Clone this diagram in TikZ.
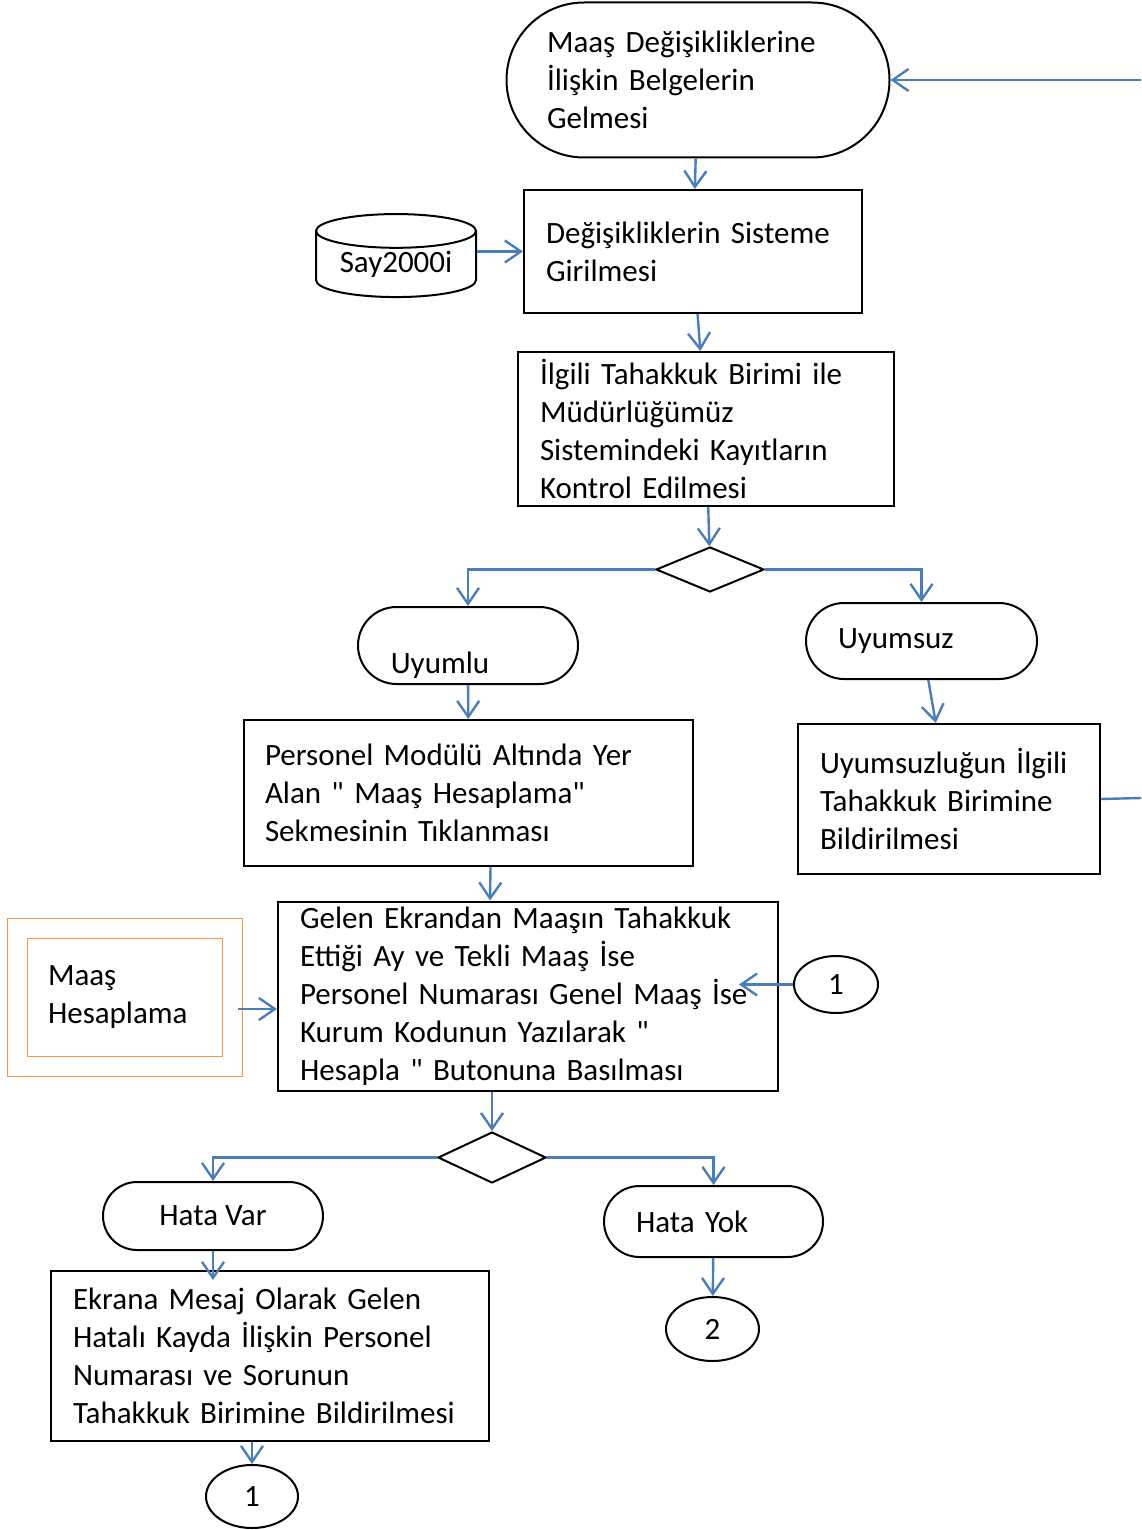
\documentclass[tikz,border=0pt]{standalone}
\usepackage{fontspec}
\setmainfont{Carlito}
\usetikzlibrary{shapes}
\usetikzlibrary{arrows.meta}
\usetikzlibrary{positioning}
\definecolor{akismavi}{RGB}{74,126,187}
\definecolor{turuncu}{RGB}{247,150,70}
\tikzstyle{terminal}=[rounded rectangle,draw,line width=1pt,inner sep=0pt,align=left]
\tikzstyle{islem}=[rectangle,draw,line width=1pt,inner sep=0pt,align=left]
\tikzstyle{karar}=[diamond,draw,line width=1pt,inner sep=0pt]
\tikzstyle{baglanti}=[ellipse,draw,line width=1pt,inner sep=0pt]
\tikzstyle{veri}=[cylinder,shape border rotate=90,aspect=0.3,draw,line width=1pt,inner sep=0pt]
\tikzstyle{akis}=[-{Straight Barb[length=8pt,width=11pt]},draw=akismavi,line width=1.2pt]
\tikzstyle{cizgi}=[draw=akismavi,line width=1.2pt]
\newcommand{\tirnak}{\textquotedbl}
\begin{document}
\begin{tikzpicture}[x=0.5pt,y=-0.5pt,font=\fontsize{15.5}{19}\selectfont]
\useasboundingbox (0,0) rectangle (1141,1530);
\node[terminal,minimum width=191.5pt,minimum height=77.5pt,text width=151pt] (basla) at (698,80) {Maaş Değişikliklerine\\İlişkin Belgelerin\\Gelmesi};
\node[islem,minimum width=169pt,minimum height=61.5pt,text width=147pt] (giris) at (693,251.5) {Değişikliklerin Sisteme\\Girilmesi};
\node[veri,minimum width=80pt,minimum height=41.5pt] (say) at (396,264.5) {Say2000i};
\node[islem,minimum width=188pt,minimum height=77pt,text width=166pt] (kontrol) at (706,429) {İlgili Tahakkuk Birimi ile\\Müdürlüğümüz\\Sistemindeki Kayıtların\\Kontrol Edilmesi};
\node[karar,minimum width=54pt,minimum height=22.5pt] (karar1) at (710,569.5) {};
\node[terminal,minimum width=110pt,minimum height=38.5pt,label={[xshift=-14pt,yshift=-9.75pt]center:Uyumlu}] (uyumlu) at (468,645.5) {};
\node[terminal,minimum width=115.5pt,minimum height=38pt,text width=83.5pt] (uyumsuz) at (921.5,641) {Uyumsuz};
\node[islem,minimum width=224.5pt,minimum height=73pt,text width=203.5pt] (personel) at (468.5,793) {Personel Modülü Altında Yer\\Alan \tirnak{} Maaş Hesaplama\tirnak\\Sekmesinin Tıklanması};
\node[islem,minimum width=151pt,minimum height=75pt,text width=129pt] (uyumsuzluk) at (949,799) {Uyumsuzluğun İlgili\\Tahakkuk Birimine\\Bildirilmesi};
\node[islem,minimum width=250pt,minimum height=94.5pt,text width=228pt] (gelen) at (528,996) {Gelen Ekrandan Maaşın Tahakkuk\\Ettiği Ay ve Tekli Maaş İse\\Personel Numarası Genel Maaş İse\\Kurum Kodunun Yazılarak \tirnak\\Hesapla \tirnak{} Butonuna Basılması};
\node[islem,draw=turuncu,line width=0.5pt,double,double distance=9.5pt,minimum width=107.25pt,minimum height=69pt,text width=77pt] (hesap) at (125,997) {Maaş\\Hesaplama};
\node[baglanti,minimum width=42pt,minimum height=28.5pt] (bag1) at (836,984.5) {1};
\node[karar,minimum width=54pt,minimum height=25.5pt] (karar2) at (492,1157.5) {};
\node[terminal,minimum width=110pt,minimum height=34pt] (hatavar) at (213,1216) {Hata Var};
\node[terminal,minimum width=109.5pt,minimum height=35.5pt,text width=77.5pt] (hatayok) at (713.5,1221.5) {Hata Yok};
\node[islem,minimum width=219pt,minimum height=85pt,text width=197pt] (ekrana) at (270,1356) {Ekrana Mesaj Olarak Gelen\\Hatalı Kayda İlişkin Personel\\Numarası ve Sorunun\\Tahakkuk Birimine Bildirilmesi};
\node[baglanti,minimum width=46.5pt,minimum height=32pt] (bag2) at (712.5,1329) {2};
\node[baglanti,minimum width=46pt,minimum height=31.5pt] (bag3) at (252,1496.5) {1};
\coordinate (sag1) at (1141,80);
\coordinate (sag2) at (1141,798);
% akis oklari
\draw[akis] (sag1) -- (basla.east);
\draw[akis] (basla) -- (giris);
\draw[akis] (say.east |- giris.west) -- (giris.west);
\draw[akis] (giris) -- (kontrol);
\draw[akis] (kontrol) -- (karar1);
\draw[akis] (karar1.west) -| (uyumlu.north);
\draw[akis] (karar1.east) -| (uyumsuz.north);
\draw[akis] (uyumlu) -- (personel);
\draw[akis] (uyumsuz) -- (uyumsuzluk);
\draw[cizgi] (uyumsuzluk.east) -- (sag2);
\draw[akis] ([xshift=11pt]personel.south) -- ([xshift=-19pt]gelen.north);
\draw[akis] ([xshift=2.5pt,yshift=-6pt]hesap.east) -- ([yshift=-6pt]gelen.west |- hesap.east);
\draw[akis] (bag1.west) -- ([xshift=-20pt]gelen.east |- bag1.west);
\draw[akis] (karar2.north |- gelen.south) -- (karar2.north);
\draw[akis] (karar2.west) -| (hatavar.north);
\draw[akis] (karar2.east) -| (hatayok.north);
\draw[akis] (hatavar.south) -- ([yshift=-5pt]hatavar.south |- ekrana.north);
\draw[akis] (hatayok) -- (bag2);
\draw[akis] (ekrana.south -| bag3.north) -- (bag3.north);
\end{tikzpicture}
\end{document}
